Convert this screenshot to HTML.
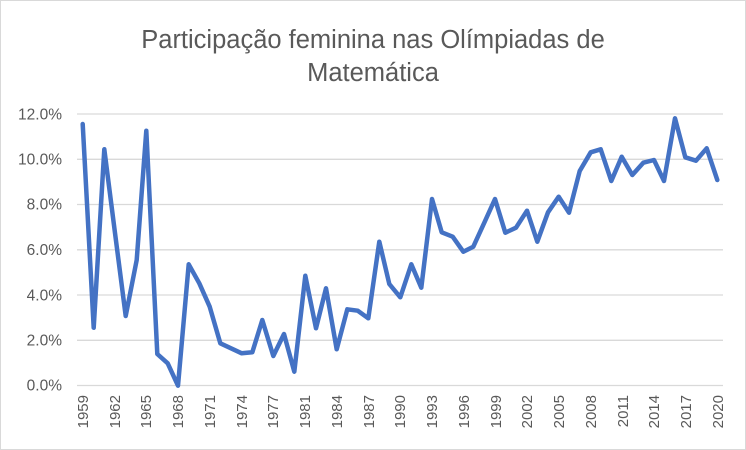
<!DOCTYPE html>
<html><head><meta charset="utf-8"><style>
body{margin:0;background:#fff}
svg{display:block;font-family:"Liberation Sans",Arial,sans-serif}
</style></head><body>
<svg width="746" height="450" viewBox="0 0 746 450">
<rect x="0.5" y="0.5" width="745" height="449" fill="#fff" stroke="#d9d9d9"/>
<text x="373" y="48" text-anchor="middle" font-size="25.5" fill="#595959">Participação feminina nas Olímpiadas de</text>
<text x="373" y="81" text-anchor="middle" font-size="25.5" fill="#595959">Matemática</text>
<g stroke="#d9d9d9" stroke-width="1.3">
<line x1="77" x2="723" y1="114" y2="114"/><line x1="77" x2="723" y1="159.3" y2="159.3"/>
<line x1="77" x2="723" y1="204.5" y2="204.5"/><line x1="77" x2="723" y1="249.8" y2="249.8"/>
<line x1="77" x2="723" y1="295" y2="295"/><line x1="77" x2="723" y1="340.3" y2="340.3"/>
<line x1="77" x2="723" y1="385.5" y2="385.5"/>
</g>
<g font-size="15.5" fill="#595959" text-anchor="end">
<text x="62" y="119.5">12.0%</text><text x="62" y="164.5">10.0%</text><text x="62" y="209.5">8.0%</text>
<text x="62" y="255">6.0%</text><text x="62" y="300.5">4.0%</text><text x="62" y="345.5">2.0%</text><text x="62" y="390.5">0.0%</text>
</g>
<g font-size="15" fill="#595959" text-anchor="end">
<text transform="translate(88,395) rotate(-90)">1959</text>
<text transform="translate(120,395) rotate(-90)">1962</text>
<text transform="translate(151,395) rotate(-90)">1965</text>
<text transform="translate(183,395) rotate(-90)">1968</text>
<text transform="translate(215,395) rotate(-90)">1971</text>
<text transform="translate(247,395) rotate(-90)">1974</text>
<text transform="translate(278,395) rotate(-90)">1977</text>
<text transform="translate(310,395) rotate(-90)">1981</text>
<text transform="translate(342,395) rotate(-90)">1984</text>
<text transform="translate(374,395) rotate(-90)">1987</text>
<text transform="translate(405,395) rotate(-90)">1990</text>
<text transform="translate(437,395) rotate(-90)">1993</text>
<text transform="translate(469,395) rotate(-90)">1996</text>
<text transform="translate(501,395) rotate(-90)">1999</text>
<text transform="translate(532,395) rotate(-90)">2002</text>
<text transform="translate(564,395) rotate(-90)">2005</text>
<text transform="translate(596,395) rotate(-90)">2008</text>
<text transform="translate(628,395) rotate(-90)">2011</text>
<text transform="translate(659,395) rotate(-90)">2014</text>
<text transform="translate(691,395) rotate(-90)">2017</text>
<text transform="translate(723,395) rotate(-90)">2020</text>
</g>
<polyline fill="none" stroke="#4472c4" stroke-width="4.5" stroke-linejoin="round" stroke-linecap="round" points="
82.7,124 93.7,327.7 104.3,149.3 115,233 125.7,316 136.7,260 146.3,130.7 157.3,354 167.7,363.3 178,385.7
188.7,264.3 199.3,283.3 209.7,306.7 220.3,343.3 231,348.3 241.7,353.3 252.3,352.3 262.3,320 273.3,356 284,334
294.3,371.7 305.3,275.7 316,328.3 326,288.3 336.7,349.3 347.3,309.3 357.7,310.7 368.3,318.3 379.3,241.7 389.3,284
400.3,297.3 411.3,264.3 421.3,287.7 432,199 441.7,232.3 452.7,236.7 463.3,251.7 473.3,246.7 484.3,222.7 495,199
505.3,232.7 516,227.7 527,210.7 537.3,241.7 548,212.3 558.7,196.7 569,212.7 579.7,171 590.7,152.3 600.7,149.3
611.3,181 621.7,156.7 632.3,175 643.3,162.7 654,160 664,181 675,118.3 685.3,157.3 696,160.7 706.7,148.3 717.3,180"/>
</svg>
</body></html>
